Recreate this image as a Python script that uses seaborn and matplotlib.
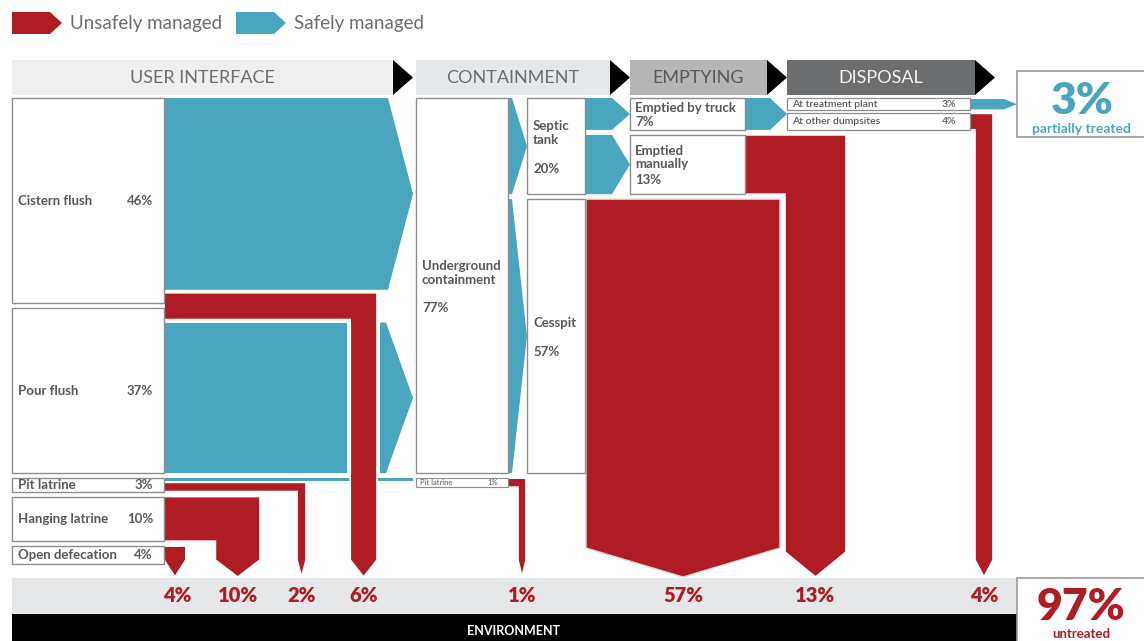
import numpy as np
import pandas as pd
import matplotlib
matplotlib.use("Agg")
import matplotlib.pyplot as plt
from matplotlib.patches import Rectangle, Polygon
import seaborn as sns

# ---------------- data ----------------
legend_labels = ["Unsafely managed", "Safely managed"]
stage_labels = ["USER INTERFACE", "CONTAINMENT", "EMPTYING", "DISPOSAL"]
ui_labels = ["Cistern flush", "Pour flush", "Pit latrine", "Hanging latrine", "Open defecation"]
ui_values = [46, 37, 3, 10, 4]
ui_safe = [43, 34, 1, 0, 0]          # share going on to containment
ui_unsafe = [3, 3, 2, 10, 4]          # share going straight to environment
containment_labels = ["Underground\ncontainment", "Pit latrine"]
containment_values = [77, 1]
sub_labels = ["Septic\ntank", "Cesspit"]
sub_values = [20, 57]
emptying_labels = ["Emptied by truck", "Emptied\nmanually"]
emptying_values = [7, 13]
disposal_labels = ["At treatment plant", "At other dumpsites"]
disposal_values = [3, 4]
env_values = [4, 10, 2, 6, 1, 57, 13, 4]
partially_treated = 3
untreated = 97

# ---------------- style ----------------
sns.set_theme(style="white")
plt.rcParams["font.family"] = ["Lato", "DejaVu Sans"]

RED = "#b01c24"
BLUE = "#4aa6bf"
TXT = "#58595b"
EDGE = "#8e8e8e"

fig = plt.figure(figsize=(11.44, 6.41), dpi=100)
ax = fig.add_axes([0, 0, 1, 1])
ax.set_xlim(0, 1144)
ax.set_ylim(641, 0)
ax.axis("off")

# layout (pixel space)
S = 4.46          # px per percent in the user-interface column
Y0 = 98
GAP = 5
UI_X = (12, 164)
CONT_X = (416, 508)
SUB_X = (527, 585)
EMP_X = (630, 745)
DIS_X = (787, 970)
BODY_END = 560
TIP = 577


def poly(pts, color, z=2, ec="white", lw=1.2):
    ax.add_patch(Polygon(pts, closed=True, facecolor=color, edgecolor=ec, lw=lw, zorder=z))


def right_arrow(x0, xb, xt, y0, y1, color=BLUE):
    poly([(x0, y0), (xb, y0), (xt, (y0 + y1) / 2), (xb, y1), (x0, y1)], color, ec="none", lw=0)


def box(x0, x1, y0, y1, z=3, lw=1.0, ec=EDGE):
    ax.add_patch(Rectangle((x0, y0), x1 - x0, y1 - y0, facecolor="white", edgecolor=ec, lw=lw, zorder=z))


def txt(x, y, s, size=9, color=TXT, weight="bold", ha="left", va="center", z=5, **kw):
    ax.text(x, y, s, fontsize=size, color=color, fontweight=weight, ha=ha, va=va, zorder=z, **kw)


# ---------------- legend ----------------
for i, (lab, col) in enumerate(zip(legend_labels, [RED, BLUE])):
    lx = 12 + i * 224
    right_arrow(lx, lx + 38, lx + 50, 12, 34, col)
    txt(lx + 58, 23, lab, size=13.5, weight="normal", color="#6d6e70")

# ---------------- stage headers ----------------
hdr_x = [(12, 393), (416, 610), (630, 767), (787, 975)]
hdr_bg = ["#efefef", "#e6e7e8", "#b5b5b6", "#6d6e70"]
hdr_fg = ["#6d6e70", "#6d6e70", "#58595b", "#f2f2f2"]
for (a, b), lab, bg, fg in zip(hdr_x, stage_labels, hdr_bg, hdr_fg):
    ax.add_patch(Rectangle((a, 60), b - a, 35, facecolor=bg, edgecolor="none", zorder=1))
    poly([(b, 60), (b + 20, 77.5), (b, 95)], "black", ec="none", lw=0)
    txt((a + b) / 2, 78, lab, size=13, color=fg, weight="normal", ha="center")

# ---------------- user interface rows ----------------
rows = []
y = Y0
for v in ui_values:
    rows.append((y, y + v * S))
    y += v * S + GAP

# flush toilets: safe blue + combined unsafe red L
c0, c1 = rows[0]
p0, p1 = rows[1]
cist_safe_end = c0 + ui_safe[0] * S
right_arrow(UI_X[1], 388, 413, c0, cist_safe_end)
flush_unsafe = ui_unsafe[0] + ui_unsafe[1]
b0 = cist_safe_end + 3
b1 = b0 + flush_unsafe * S
xr1 = 377
xr0 = xr1 - flush_unsafe * S
ax.add_patch(Rectangle((UI_X[1], b1 + 3), xr0 - 3 - UI_X[1], p1 - b1 - 3, facecolor=BLUE, edgecolor="none", zorder=2))
right_arrow(xr1 + 3, 386, 413, b1 + 3, p1)
poly([(UI_X[1], b0), (xr1, b0), (xr1, BODY_END), ((xr0 + xr1) / 2, TIP), (xr0, BODY_END), (xr0, b1), (UI_X[1], b1)], RED, z=3)
flush_x = (xr0 + xr1) / 2

# pit latrine: thin blue to containment, red down
t0, t1 = rows[2]
ax.add_patch(Rectangle((UI_X[1], t0), 413 - UI_X[1], ui_safe[2] * S * 0.6, facecolor=BLUE, edgecolor="none", zorder=2))
pr1 = 306
pr0 = pr1 - ui_unsafe[2] * S
ry0 = t0 + ui_safe[2] * S * 0.6 + 1.5
poly([(UI_X[1], ry0), (pr1, ry0), (pr1, BODY_END), ((pr0 + pr1) / 2, TIP), (pr0, BODY_END), (pr0, t1), (UI_X[1], t1)], RED)
pit_x = (pr0 + pr1) / 2

# hanging latrine
h0, h1 = rows[3]
hr1 = 260
hr0 = hr1 - ui_unsafe[3] * S
poly([(UI_X[1], h0), (hr1, h0), (hr1, BODY_END), ((hr0 + hr1) / 2, TIP), (hr0, BODY_END), (hr0, h1), (UI_X[1], h1)], RED)
hang_x = (hr0 + hr1) / 2

# open defecation
o0, o1 = rows[4]
or1 = UI_X[1] + ui_unsafe[4] * S + 4
poly([(UI_X[1], o0), (or1, o0), (or1, BODY_END), ((UI_X[1] + or1) / 2, TIP), (UI_X[1], BODY_END)], RED)
od_x = (UI_X[1] + or1) / 2 + 2

for (r0, r1), lab, v in zip(rows, ui_labels, ui_values):
    box(UI_X[0], UI_X[1], r0, r1)
    txt(UI_X[0] + 6, (r0 + r1) / 2, lab, size=9.5)
    txt(UI_X[1] - 11, (r0 + r1) / 2, f"{v}%", size=9.5, ha="right")

# ---------------- containment ----------------
u0, u1 = Y0, rows[1][1]
box(CONT_X[0], CONT_X[1], u0, u1)
txt(CONT_X[0] + 6, (u0 + u1) / 2 - 13, containment_labels[0], size=9.5, linespacing=1.2)
txt(CONT_X[0] + 6, (u0 + u1) / 2 + 22, f"{containment_values[0]}%", size=9.5)

pl0 = rows[2][0]
pl1 = pl0 + containment_values[1] * S * 2
box(CONT_X[0], CONT_X[1], pl0, pl1, lw=0.8)
txt(CONT_X[0] + 4, (pl0 + pl1) / 2, containment_labels[1], size=5.5, weight="normal")
txt(CONT_X[1] - 10, (pl0 + pl1) / 2, f"{containment_values[1]}%", size=5.5, weight="normal", ha="right")
cr1 = 526
cr0 = cr1 - max(containment_values[1] * S, 8)
poly([(CONT_X[1], pl0), (cr1, pl0), (cr1, BODY_END), ((cr0 + cr1) / 2, TIP), (cr0, BODY_END), (cr0, pl1), (CONT_X[1], pl1)], RED)
pitc_x = (cr0 + cr1) / 2

# septic tank / cesspit
S2 = (u1 - u0 - GAP) / sum(sub_values)
subs = []
y = u0
for v in sub_values:
    subs.append((y, y + v * S2))
    y += v * S2 + GAP
for (s0, s1) in subs:
    right_arrow(CONT_X[1], CONT_X[1] + 4, SUB_X[0], s0, s1)

# emptying
st0, st1 = subs[0]
S3 = (st1 - st0 - GAP) / sum(emptying_values)
emps = []
y = st0
for v in emptying_values:
    emps.append((y, y + v * S3))
    y += v * S3 + GAP
for (e0, e1) in emps:
    right_arrow(SUB_X[1], 612, EMP_X[0], e0, e1)

# cesspit red to environment
cs0, cs1 = subs[1]
poly([(SUB_X[1] + 1, cs0), (780, cs0), (780, 548), ((SUB_X[1] + 1 + 780) / 2, TIP), (SUB_X[1] + 1, 548)], RED, ec="#d9d9d9", lw=1.0)
cess_x = (SUB_X[1] + 1 + 780) / 2

# manual emptying red to environment
m0, m1 = emps[1]
mr0, mr1 = 785, 846
poly([(EMP_X[1], m0), (mr1, m0), (mr1, 552), ((mr0 + mr1) / 2, TIP), (mr0, 552), (mr0, m1), (EMP_X[1], m1)], RED)
man_x = (mr0 + mr1) / 2

# truck to disposal
tr0, tr1 = emps[0]
right_arrow(EMP_X[1], 770, DIS_X[0], tr0, tr1)

S4 = (tr1 - tr0 - 3) / sum(disposal_values)
diss = []
y = tr0
for v in disposal_values:
    diss.append((y, y + v * S4))
    y += v * S4 + 3

d0, d1 = diss[0]
right_arrow(DIS_X[1], 1004, 1017, d0 + 1, d1 - 1)
q0, q1 = diss[1]
dr0, dr1 = 975, 993
poly([(DIS_X[1], q0), (dr1, q0), (dr1, BODY_END), ((dr0 + dr1) / 2, TIP), (dr0, BODY_END), (dr0, q1), (DIS_X[1], q1)], RED)
dump_x = (dr0 + dr1) / 2

# boxes & labels for the right part
for (s0, s1), lab, v in zip(subs, sub_labels, sub_values):
    box(SUB_X[0], SUB_X[1], s0, s1)
    if v == 20:
        txt(SUB_X[0] + 6, s0 + 35, lab, size=9.5, linespacing=1.15)
        txt(SUB_X[0] + 6, s0 + 71, f"{v}%", size=9.5)
    else:
        txt(SUB_X[0] + 6, s0 + 124, lab, size=9.5)
        txt(SUB_X[0] + 6, s0 + 153, f"{v}%", size=9.5)

for (e0, e1), lab, v in zip(emps, emptying_labels, emptying_values):
    box(EMP_X[0], EMP_X[1], e0, e1)
    if v == 7:
        txt(EMP_X[0] + 5, e0 + 10, lab, size=9.5)
        txt(EMP_X[0] + 5, e0 + 24, f"{v}%", size=9.5)
    else:
        txt(EMP_X[0] + 5, e0 + 23, lab, size=9.5, linespacing=1.1)
        txt(EMP_X[0] + 5, e0 + 45, f"{v}%", size=9.5)

for (a, b), lab, v in zip(diss, disposal_labels, disposal_values):
    box(DIS_X[0], DIS_X[1], a, b, lw=0.9)
    txt(DIS_X[0] + 5, (a + b) / 2, lab, size=7.5, weight="semibold")
    txt(DIS_X[1] - 14, (a + b) / 2, f"{v}%", size=7.5, weight="semibold", ha="right")

# ---------------- environment ----------------
ax.add_patch(Rectangle((12, 578), 1017 - 12, 36, facecolor="#e6e7e8", edgecolor="none", zorder=1))
ax.add_patch(Rectangle((12, 614), 1017 - 12, 27, facecolor="black", edgecolor="none", zorder=1))
txt(514, 631, "ENVIRONMENT", size=9, color="white", ha="center")

arrow_x = [od_x, hang_x, pit_x, flush_x, pitc_x, cess_x, man_x, dump_x]
for xv, v in zip(arrow_x, env_values):
    txt(xv, 595, f"{v}%", size=14.5, color=RED, weight="heavy", ha="center")

# summary boxes
box(1017, 1150, 71, 137, lw=1.2, ec="#9a9a9a")
txt(1082, 101, f"{partially_treated}%", size=32, color=BLUE, weight="heavy", ha="center")
txt(1082, 129, "partially treated", size=10, color=BLUE, ha="center")
box(1017, 1150, 578, 645, lw=1.2, ec="#9a9a9a")
txt(1081, 607, f"{untreated}%", size=32, color=RED, weight="heavy", ha="center")
txt(1081, 634, "untreated", size=9.5, color=RED, ha="center")

fig.savefig("out.png", dpi=100)
